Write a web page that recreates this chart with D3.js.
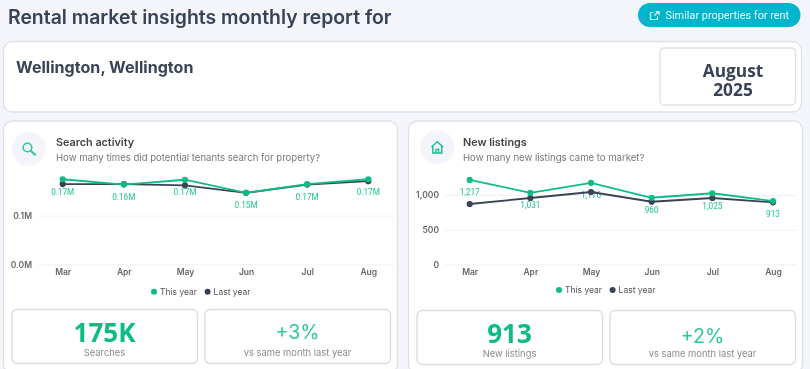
<!DOCTYPE html>
<html>
<head>
<meta charset="utf-8">
<script src="https://cdn.jsdelivr.net/npm/d3@7"></script>
<style>
  html, body { margin: 0; padding: 0; background: #f3f5fb; overflow: hidden; }
  svg { display: block; filter: blur(0.5px); }
  text { font-family: Inter, "Noto Sans", sans-serif; }
  .domain { display: none; }
</style>
</head>
<body>
<div id="chart"></div>
<script>
const months = ["Mar", "Apr", "May", "Jun", "Jul", "Aug"];

const searchThisYear = [0.175, 0.164, 0.174, 0.147, 0.165, 0.175];
const searchLastYear = [0.165, 0.165, 0.1625, 0.147, 0.164, 0.171];
const searchLabels = ["0.17M", "0.16M", "0.17M", "0.15M", "0.17M", "0.17M"];
const searchTicks = [0, 0.1];

const listingsThisYear = [1217, 1031, 1176, 960, 1025, 913];
const listingsLastYear = [870, 957, 1043, 903, 957, 895];
const listingsLabels = ["1,217", "1,031", "1,176", "960", "1,025", "913"];
const listingsTicks = [0, 500, 1000];

const GREEN = "#0dbb85";
const NAVY = "#3a4256";
const BOX = "#dfe0e4";

const svg = d3.select("#chart").append("svg").attr("width", 810).attr("height", 369);

function card(x, y, w, h, r, stroke) {
  svg.append("rect")
    .attr("x", x).attr("y", y).attr("width", w).attr("height", h).attr("rx", r)
    .attr("fill", "#fff").attr("stroke", stroke || BOX).attr("stroke-width", 1.3);
}

function label(x, y, str, size, weight, fill, anchor, family) {
  const t = svg.append("text")
    .attr("x", x).attr("y", y)
    .attr("font-size", size).attr("font-weight", weight).attr("fill", fill)
    .attr("text-anchor", anchor || "start")
    .text(str);
  if (family) t.style("font-family", family);
  return t;
}

function drawLineChart({ left, right, x0, x1, y0, y1, thisYear, lastYear, labels, ticks, tickFormat, domainMax, legendX, legendY }) {
  const x = d3.scalePoint().domain(months).range([x0, x1]);
  const y = d3.scaleLinear().domain([0, domainMax]).range([y0, y1]);

  const g = svg.append("g");

  const yAxis = g.append("g")
    .attr("transform", `translate(${left},0)`)
    .call(d3.axisLeft(y).tickValues(ticks).tickFormat(tickFormat).tickSize(-(right - left)).tickPadding(6));
  yAxis.selectAll("line").attr("stroke", "#f0f1f4");
  yAxis.selectAll("text")
    .attr("font-size", 8.5).attr("font-weight", 600).attr("fill", "#666")
    .style("font-family", "Inter");

  const xAxis = g.append("g")
    .attr("transform", `translate(0,${y0})`)
    .call(d3.axisBottom(x).tickSize(0).tickPadding(5));
  xAxis.selectAll("text")
    .attr("font-size", 8.5).attr("font-weight", 600).attr("fill", "#666")
    .style("font-family", "Inter");

  // value labels go under the lines, the May one on the right is partly hidden
  g.selectAll(null)
    .data(thisYear)
    .join("text")
    .attr("x", (d, i) => x(months[i]))
    .attr("y", (d) => y(d) + 15.5)
    .attr("text-anchor", "middle")
    .attr("font-size", 8.2)
    .attr("fill", "#1fc592")
    .style("font-family", "Roboto")
    .text((d, i) => labels[i]);

  const line = d3.line().x((d, i) => x(months[i])).y((d) => y(d));

  [[lastYear, NAVY], [thisYear, GREEN]].forEach(([values, color]) => {
    g.append("path")
      .datum(values)
      .attr("fill", "none")
      .attr("stroke", color)
      .attr("stroke-width", 1.8)
      .attr("d", line);
    g.selectAll(null)
      .data(values)
      .join("circle")
      .attr("cx", (d, i) => x(months[i]))
      .attr("cy", (d) => y(d))
      .attr("r", 3.1)
      .attr("fill", color);
  });

  [["This year", GREEN, 0], ["Last year", NAVY, 53.6]].forEach(([name, color, dx]) => {
    g.append("circle").attr("cx", legendX + dx).attr("cy", legendY).attr("r", 3).attr("fill", color);
    label(legendX + dx + 6, legendY + 3, name, 8.5, 400, "#555");
  });
}

function statBox(x, y, big, small, bigWeight, bigSize, bigY, smallY, bigColor, family) {
  card(x, y, 185.5, 54, 5, "#dcdcdf");
  label(x + 92.5, bigY, big, bigSize, bigWeight, bigColor, "middle", family);
  label(x + 92.5, smallY, small, 9.4, 400, "#8a8a8a", "middle");
}

// header
label(8, 24, "Rental market insights monthly report for", 19.4, 600, NAVY);

svg.append("rect")
  .attr("x", 638).attr("y", 3).attr("width", 162.5).attr("height", 24).attr("rx", 12)
  .attr("fill", "#00b5cc");
svg.append("path")
  .attr("d", "M653.5 12.5 h-3 v7 h7 v-3 M654.5 15.5 l4 -4 M655.5 11.5 h3.5 v3.5")
  .attr("fill", "none").attr("stroke", "#e6fbff").attr("stroke-width", 1.2);
label(665.5, 18.8, "Similar properties for rent", 10.9, 400, "#e6fbff", "start", "Roboto");

card(3.5, 41.5, 798, 70.5, 9);
label(16, 73, "Wellington, Wellington", 16.1, 700, NAVY);
card(660, 48, 135.5, 57, 4);

const dateText = svg.append("text")
  .attr("text-anchor", "middle")
  .attr("font-size", 17.3).attr("font-weight", 700).attr("fill", NAVY)
  .style("font-family", "Open Sans");
dateText.append("tspan").attr("x", 733).attr("y", 77.3).text("August");
dateText.append("tspan").attr("x", 733).attr("y", 96).text("2025");

// panels
card(3.5, 121, 394, 252, 9);
card(408.5, 121, 394, 252, 9);

svg.append("circle").attr("cx", 29).attr("cy", 149).attr("r", 17).attr("fill", "#f3f5fb");
svg.append("circle").attr("cx", 27.5).attr("cy", 147.5).attr("r", 4.3)
  .attr("fill", "none").attr("stroke", "#2cc79a").attr("stroke-width", 1.6);
svg.append("line").attr("x1", 30.7).attr("y1", 150.7).attr("x2", 35.5).attr("y2", 155.2)
  .attr("stroke", "#2cc79a").attr("stroke-width", 2);

svg.append("circle").attr("cx", 437.3).attr("cy", 147).attr("r", 17).attr("fill", "#f3f5fb");
svg.append("path")
  .attr("d", "M431.5 147 l5.8 -5.2 l5.8 5.2 M432.8 146 v7 h9 v-7 M436 153 v-3.5 h2.6 v3.5")
  .attr("fill", "none").attr("stroke", "#19bf90").attr("stroke-width", 1.4);

label(56, 146, "Search activity", 10.8, 600, "#444");
label(56, 160.5, "How many times did potential tenants search for property?", 9.55, 400, "#777");
label(463, 146, "New listings", 10.8, 600, "#444");
label(463, 160.5, "How many new listings came to market?", 9.55, 400, "#777");

drawLineChart({
  left: 38, right: 392.7, x0: 62.7, x1: 368.3, y0: 264.3, y1: 215.7,
  thisYear: searchThisYear, lastYear: searchLastYear, labels: searchLabels,
  ticks: searchTicks, tickFormat: (d) => d.toFixed(1) + "M", domainMax: 0.1,
  legendX: 154, legendY: 291.7,
});

drawLineChart({
  left: 445, right: 796.7, x0: 469.7, x1: 773, y0: 264.3, y1: 195,
  thisYear: listingsThisYear, lastYear: listingsLastYear, labels: listingsLabels,
  ticks: listingsTicks, tickFormat: d3.format(","), domainMax: 1000,
  legendX: 559, legendY: 290,
});

statBox(12, 309.5, "175K", "Searches", 700, 26, 341.5, 356, GREEN, "Open Sans");
statBox(205, 309.5, "+3%", "vs same month last year", 400, 19.6, 339.3, 356, "#2cc79a");
statBox(417, 310.5, "913", "New listings", 700, 26, 342.5, 357, GREEN, "Open Sans");
statBox(610, 310.5, "+2%", "vs same month last year", 400, 19.6, 342.7, 357, "#2cc79a");
</script>
</body>
</html>
